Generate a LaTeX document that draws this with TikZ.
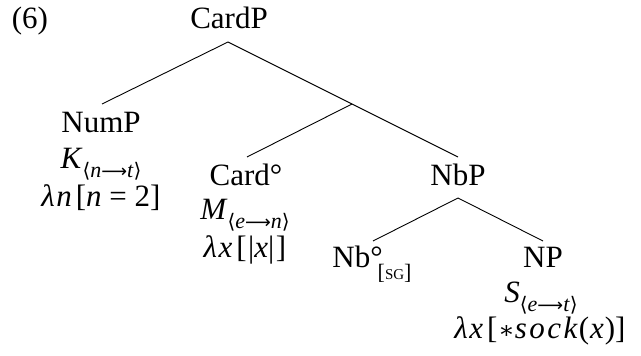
\documentclass[tikz,border=0pt]{standalone}
\usepackage{fontspec}
\setmainfont{Liberation Serif}
\newfontfamily\dvs{DejaVu Serif}
\newfontfamily\dvsans{DejaVu Sans}
\newcommand{\mi}[1]{\textit{#1}}
\newcommand{\subtx}[1]{\raisebox{-0.3em}{\fontsize{22}{24}\selectfont #1}}
\newcommand{\ty}[2]{\subtx{{\dvs\fontsize{20}{24}\selectfont ⟨}\mi{#1}{\dvsans\fontsize{18}{24}\selectfont ⟶}\mi{#2}{\dvs\fontsize{20}{24}\selectfont ⟩}}}
\tikzset{
  lbl/.style={anchor=base, inner sep=0pt, font=\fontsize{31}{36}\selectfont},
  branch/.style={line width=0.9pt}
}
\begin{document}
\begin{tikzpicture}[x=1pt,y=-1pt]
\useasboundingbox (0,0) rectangle (641,356);
\node[lbl] (ex) at (30,28) {(6)};
\node[lbl] (cardp) at (229,28) {CardP};
\coordinate (cardpb) at (228,42);
\node[lbl] (nump) at (101,132) {NumP};
\coordinate (numpt) at (102,104);
\node[lbl] (numk) at (101,168) {\mi{K}\ty{n}{t}};
\node[lbl] (numl) at (101,206) {\mi{λ\kern1.5pt n}\kern4pt[\mi{n} = 2]};
\coordinate (bar) at (352,104);
\node[lbl] (card) at (246,185) {Card°};
\coordinate (cardt) at (247,157);
\node[lbl] (cardm) at (245,219) {\mi{M}\ty{e}{n}};
\node[lbl] (cardl) at (245,257) {\mi{λ\kern1.5pt x}\kern4pt[\kern1.5pt|\mi{x}|\kern1.5pt]};
\node[lbl] (nbp) at (458,185) {NbP};
\coordinate (nbpt) at (458,157);
\coordinate (nbpb) at (458,198);
\node[lbl] (nb) at (372,267) {Nb°\kern-5pt\raisebox{-12pt}{\fontsize{22}{24}\selectfont [\fontsize{15}{16}\selectfont SG\fontsize{22}{24}\selectfont]}};
\coordinate (nbt) at (373,241);
\node[lbl] (np) at (543,267) {NP};
\coordinate (npt) at (543,241);
\node[lbl] (nps) at (541,302) {\mi{S}\ty{e}{t}};
\node[lbl] (npl) at (540,338) {\mi{λ\kern1.5pt x}\kern4pt[\kern1pt{\dvs\fontsize{24}{24}\selectfont ∗}\mi{s\kern2.5pt o\kern2.5pt c\kern2.5pt k}\kern1pt(\kern1pt\mi{x}\kern1pt)]};
\draw[branch] (cardpb) -- (numpt);
\draw[branch] (cardpb) -- (nbpt);
\draw[branch] (bar) -- (cardt);
\draw[branch] (nbpb) -- (nbt);
\draw[branch] (nbpb) -- (npt);
\end{tikzpicture}
\end{document}
